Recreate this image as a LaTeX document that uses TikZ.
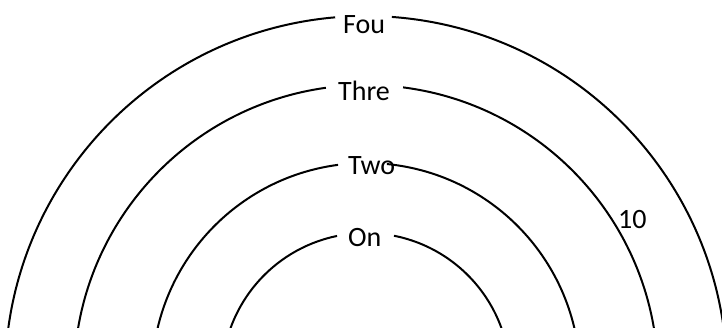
\documentclass[tikz,border=0pt]{standalone}
\usepackage{fontspec}
\setmainfont{Carlito}
\usetikzlibrary{calc}
\tikzstyle{ring} = [draw=black, line width=2pt]
\tikzstyle{label} = [inner sep=0pt, anchor=base west, font=\fontsize{28}{32}\selectfont]

\begin{document}
\begin{tikzpicture}[x=1pt, y=1pt]

% Page frame
\useasboundingbox (0,0) rectangle (722,327);
\clip (0,0) rectangle (722,327);
\coordinate (ctr) at (366,-50);

% Rings, each broken where its label sits
\foreach \r/\a/\b in {361/85.9/94.9, 292/82.7/97.9, 214/84.4/97.5, 144/78.8/101.6} {
  \draw[ring] (ctr) ++(0:\r) arc (0:\a:\r);
  \draw[ring] (ctr) ++(\b:\r) arc (\b:180:\r);
}

% Labels
\node (fou) [label] at (343,293) {Fou};
\node (thre) [label] at (338,226) {Thre};
\node (two) [label] at (348,153) {Two};
\node (on) [label] at (348,81) {On};
\node (ten) [label] at (618,99) {10};

\end{tikzpicture}
\end{document}
